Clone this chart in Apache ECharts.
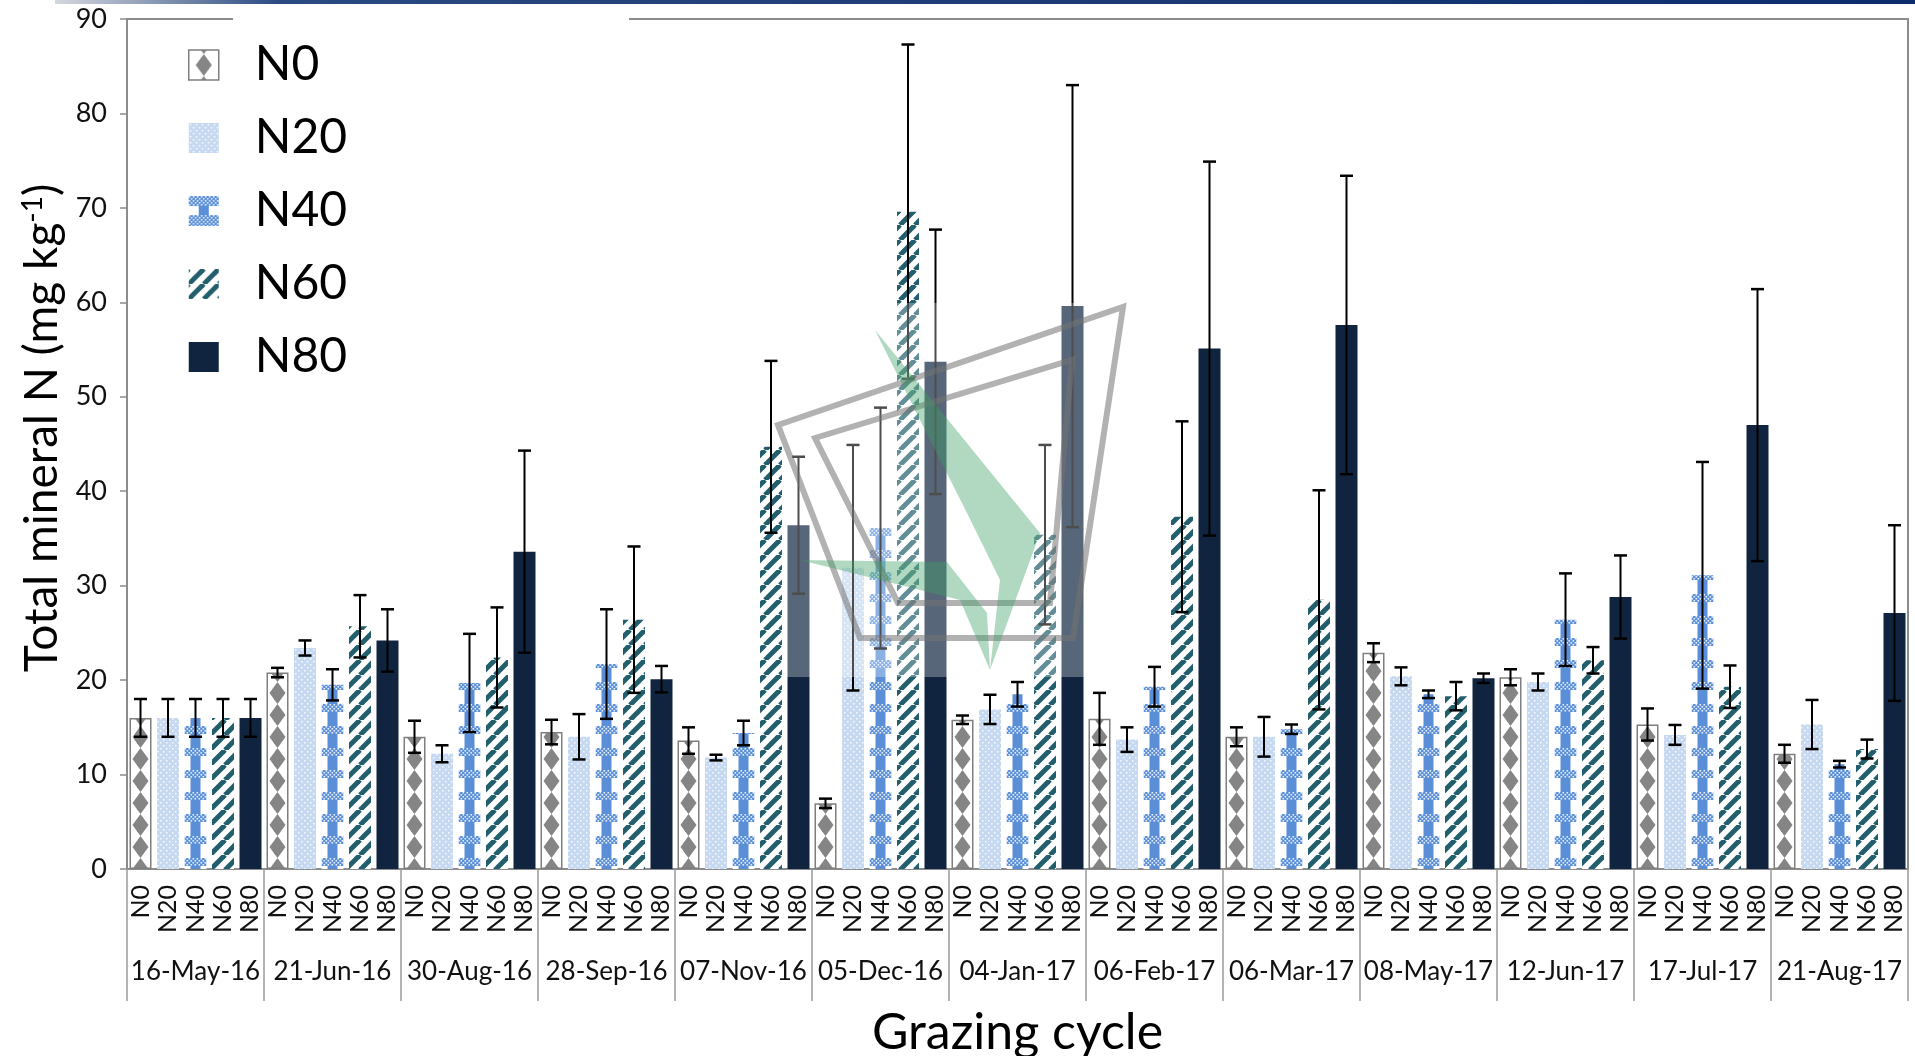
<!DOCTYPE html>
<html>
<head>
<meta charset="utf-8">
<title>Total mineral N by grazing cycle</title>
<script src="https://cdn.jsdelivr.net/npm/echarts@6/dist/echarts.min.js"></script>
<style>
  html, body { margin: 0; padding: 0; background: #fff; }
  #chart { width: 1915px; height: 1056px; }
</style>
</head>
<body>
<div id="chart"></div>
<script>
// grazing cycles (x categories)
const dates = ['16-May-16', '21-Jun-16', '30-Aug-16', '28-Sep-16', '07-Nov-16', '05-Dec-16', '04-Jan-17',
  '06-Feb-17', '06-Mar-17', '08-May-17', '12-Jun-17', '17-Jul-17', '21-Aug-17']
const treatments = ['N0', 'N20', 'N40', 'N60', 'N80']

// means and error (half-length) per treatment, mg kg-1
const n0Mean = [16, 20.8, 14.0, 14.5, 13.6, 6.95, 15.8, 15.9, 14.0, 22.9, 20.3, 15.3, 12.2]
const n0Err = [2, 0.5, 1.7, 1.3, 1.4, 0.5, 0.45, 2.75, 1.0, 1.0, 0.85, 1.7, 0.95]
const n20Mean = [16, 23.4, 12.2, 14.0, 11.8, 31.9, 16.9, 13.7, 14.0, 20.4, 19.8, 14.2, 15.3]
const n20Err = [2, 0.8, 0.9, 2.4, 0.3, 13.0, 1.55, 1.3, 2.1, 0.95, 0.9, 1.05, 2.6]
const n40Mean = [16, 19.5, 19.7, 21.7, 14.4, 36.1, 18.5, 19.3, 14.8, 18.5, 26.4, 31.1, 11.1]
const n40Err = [2, 1.65, 5.2, 5.8, 1.3, 12.75, 1.3, 2.1, 0.5, 0.4, 4.9, 12.0, 0.35]
const n60Mean = [16, 25.7, 22.4, 26.4, 44.7, 69.6, 35.4, 37.3, 28.5, 18.3, 22.1, 19.3, 12.7]
const n60Err = [2, 3.3, 5.3, 7.75, 9.1, 17.7, 9.5, 10.1, 11.6, 1.5, 1.4, 2.25, 1.0]
const n80Mean = [16, 24.2, 33.6, 20.1, 36.4, 53.7, 59.6, 55.1, 57.6, 20.2, 28.8, 47.0, 27.1]
const n80Err = [2, 3.3, 10.7, 1.4, 7.25, 14.0, 23.4, 19.8, 15.8, 0.5, 4.4, 14.4, 9.3]

const yMin = 0
const yMax = 90
const yStep = 10

// layout
const GRID_LEFT = 127
const BAND = 137            // px per grazing cycle
const BAR_W = 22
const BAR_STEP = BAR_W * 1.25
const FONT = 'Lato'

// second row of labels: treatment under each bar
const subLabels = []
dates.forEach(() => treatments.forEach(t => subLabels.push(t)))

// ---- fill patterns ----
const mkCanvas = (w, h) => {
  const c = document.createElement('canvas')
  c.width = w
  c.height = h
  return c
}

// bar centre (mod band) so the motif lines up with each bar
const barCenter = j => (GRID_LEFT + (BAND - (5 * BAR_W + 4 * 0.25 * BAR_W)) / 2 + BAR_W / 2 + j * BAR_STEP) % BAND

const drawDiamond = (g, cx, cy) => {
  g.beginPath()
  g.moveTo(cx, cy - 11)
  g.lineTo(cx + 8, cy)
  g.lineTo(cx, cy + 11)
  g.lineTo(cx - 8, cy)
  g.closePath()
  g.fill()
}

const n0Tile = (w, h, cx) => {
  const c = mkCanvas(w, h)
  const g = c.getContext('2d')
  g.fillStyle = '#fff'
  g.fillRect(0, 0, w, h)
  g.fillStyle = '#858585'
  const xs = w === BAND ? [cx - BAND, cx, cx + BAND] : [cx]
  xs.forEach(x => {
    for (let y = h / 2 - 22; y <= h + 11; y += 22) drawDiamond(g, x, y)
  })
  return c
}

const n20Tile = () => {
  const c = mkCanvas(6, 6)
  const g = c.getContext('2d')
  g.fillStyle = '#c6d9f1'
  g.fillRect(0, 0, 6, 6)
  g.fillStyle = 'rgba(255,255,255,0.85)'
  g.fillRect(1, 1, 1.5, 1.5)
  g.fillRect(4, 4, 1.5, 1.5)
  return c
}

const checkerBand = (g, x0, y0, w, h) => {
  g.fillStyle = '#5a8fd8'
  g.fillRect(x0, y0, w, h)
  g.fillStyle = 'rgba(255,255,255,0.85)'
  for (let x = 0; x < w; x += 2) {
    for (let y = 0; y < h; y += 2) {
      if (((x + y) / 2) % 2 === 0) g.fillRect(x0 + x, y0 + y, 1.6, 1.6)
    }
  }
}

const n40Tile = (w, h, cx, legend) => {
  const c = mkCanvas(w, h)
  const g = c.getContext('2d')
  g.fillStyle = '#fff'
  g.fillRect(0, 0, w, h)
  const xs = w === BAND ? [cx - BAND, cx, cx + BAND] : [cx]
  xs.forEach(x => {
    g.fillStyle = '#5a8fd8'
    g.fillRect(x - 5, 0, 10, h)
    if (legend) {
      checkerBand(g, x - 15, 0, 30, 10)
      checkerBand(g, x - 15, 19, 30, 11)
    } else {
      checkerBand(g, x - 11, 0, 22, 8)
    }
  })
  return c
}

const n60Tile = () => {
  const s = 15
  const c = mkCanvas(s, s)
  const g = c.getContext('2d')
  g.fillStyle = '#fff'
  g.fillRect(0, 0, s, s)
  g.strokeStyle = '#225e6b'
  g.lineWidth = 5
  for (let k = -1; k <= 1; k++) {
    g.beginPath()
    g.moveTo(k * s, s)
    g.lineTo(k * s + s, 0)
    g.stroke()
  }
  return c
}

const pat = img => ({ image: img, repeat: 'repeat' })

const barFills = [
  pat(n0Tile(BAND, 22, barCenter(0))),
  pat(n20Tile()),
  pat(n40Tile(BAND, 22, barCenter(2), false)),
  pat(n60Tile()),
  '#11243f'
]
const legendFills = [
  pat(n0Tile(30, 30, 15)),
  pat(n20Tile()),
  pat(n40Tile(30, 30, 15, true)),
  pat(n60Tile()),
  '#11243f'
]

const means = [n0Mean, n20Mean, n40Mean, n60Mean, n80Mean]
const errs = [n0Err, n20Err, n40Err, n60Err, n80Err]

// ---- series ----
const barSeries = treatments.map((name, j) => ({
  name,
  type: 'bar',
  xAxisIndex: 0,
  yAxisIndex: 0,
  barWidth: BAR_W,
  barGap: '25%',
  silent: true,
  itemStyle: j === 0
    ? { color: barFills[j], borderColor: '#7f7f7f', borderWidth: 1.5 }
    : { color: barFills[j] },
  data: means[j]
}))

const errorSeries = treatments.map((name, j) => ({
  name: name + ' se',
  type: 'custom',
  xAxisIndex: 0,
  yAxisIndex: 0,
  z: 5,
  silent: true,
  data: means[j].map((m, i) => [i, m, errs[j][i]]),
  encode: { x: 0, y: 1 },
  renderItem: (params, api) => {
    const i = api.value(0)
    const m = api.value(1)
    const e = api.value(2)
    const top = api.coord([i, m + e])
    const bot = api.coord([i, m - e])
    const x = top[0] + (j - 2) * BAR_STEP
    const half = 6.5
    const capStyle = { stroke: '#000', lineWidth: 2.5 }
    return {
      type: 'group',
      children: [
        { type: 'line', shape: { x1: x, y1: top[1], x2: x, y2: bot[1] }, style: { stroke: '#000', lineWidth: 2 } },
        { type: 'line', shape: { x1: x - half, y1: top[1], x2: x + half, y2: top[1] }, style: capStyle },
        { type: 'line', shape: { x1: x - half, y1: bot[1], x2: x + half, y2: bot[1] }, style: capStyle }
      ]
    }
  }
}))

const chart = echarts.init(document.getElementById('chart'))

chart.setOption({
  animation: false,
  backgroundColor: '#fff',
  textStyle: { fontFamily: FONT },
  grid: {
    left: GRID_LEFT,
    top: 19,
    width: BAND * dates.length,
    height: 850,
    show: true,
    borderColor: '#8c8c8c',
    borderWidth: 2,
    containLabel: false,
    outerBoundsMode: 'none'
  },
  legend: {
    orient: 'vertical',
    left: 188,
    top: 41,
    padding: 0,
    itemWidth: 30,
    itemHeight: 30,
    itemGap: 25,
    icon: 'rect',
    selectedMode: false,
    textStyle: { fontSize: 48, lineHeight: 48, color: '#000', fontFamily: FONT, padding: [0, 0, 0, 31] },
    data: treatments.map((name, j) => ({
      name,
      itemStyle: j === 0
        ? { color: legendFills[j], borderColor: '#7f7f7f', borderWidth: 1.5 }
        : { color: legendFills[j], borderWidth: 0 }
    }))
  },
  xAxis: [
    {
      type: 'category',
      data: dates,
      position: 'bottom',
      axisLine: { show: true, lineStyle: { color: '#8c8c8c', width: 2 } },
      axisTick: { show: true, alignWithLabel: false, interval: 0, length: 132, lineStyle: { color: '#9a9a9a', width: 1.5 } },
      axisLabel: { interval: 0, margin: 90, fontSize: 26, color: '#111', fontFamily: FONT },
      splitLine: { show: false },
      name: 'Grazing cycle',
      nameLocation: 'middle',
      nameGap: 139,
      nameTextStyle: { fontSize: 50, color: '#000', fontFamily: FONT }
    },
    {
      type: 'category',
      data: subLabels,
      position: 'bottom',
      axisLine: { show: false },
      axisTick: { show: false },
      axisLabel: { interval: 0, rotate: 90, margin: 16, fontSize: 25, color: '#111', fontFamily: FONT },
      splitLine: { show: false }
    }
  ],
  yAxis: {
    type: 'value',
    min: yMin,
    max: yMax,
    interval: yStep,
    axisLine: { show: true, lineStyle: { color: '#8c8c8c', width: 2 } },
    axisTick: { show: true, length: 7, lineStyle: { color: '#8c8c8c', width: 1.5 } },
    axisLabel: { margin: 20, fontSize: 27, color: '#111', fontFamily: FONT },
    splitLine: { show: false },
    name: '{a|Total mineral N (mg kg}{s|-1}{a|)}',
    nameLocation: 'middle',
    nameGap: 60,
    nameTextStyle: {
      padding: [0, 0, 0, 32],
      rich: {
        a: { fontSize: 46, color: '#000', fontFamily: FONT },
        s: { fontSize: 28, color: '#000', fontFamily: FONT, verticalAlign: 'top' }
      }
    }
  },
  graphic: [
    {
      type: 'rect', z: 50, silent: true,
      shape: { x: 55, y: 0, width: 1860, height: 4 },
      style: {
        fill: new echarts.graphic.LinearGradient(0, 0, 1, 0, [
          { offset: 0, color: '#d5d8de' },
          { offset: 0.12, color: '#2a4a82' },
          { offset: 1, color: '#0c2b6c' }
        ])
      }
    },
    { type: 'rect', z: 50, silent: true, shape: { x: 233, y: 14, width: 396, height: 10 }, style: { fill: '#fff' } },
    // faded logo watermark
    { type: 'rect', z: 60, silent: true, shape: { x: 785, y: 303, width: 305, height: 374 }, style: { fill: 'rgba(255,255,255,0.3)' } },
    {
      type: 'polygon', z: 61, silent: true,
      shape: { points: [[778, 425], [1123, 307], [1073, 638], [860, 638]] },
      style: { fill: 'none', stroke: 'rgba(115,115,115,0.55)', lineWidth: 6 }
    },
    {
      type: 'polygon', z: 61, silent: true,
      shape: { points: [[815, 438], [1072, 360], [1050, 603], [898, 603]] },
      style: { fill: 'none', stroke: 'rgba(115,115,115,0.55)', lineWidth: 6 }
    },
    {
      type: 'polygon', z: 62, silent: true,
      shape: { points: [[875, 330], [1040, 533], [990, 670], [1000, 580], [967, 513], [920, 420]] },
      style: { fill: 'rgba(60,160,100,0.4)' }
    },
    {
      type: 'polygon', z: 62, silent: true,
      shape: { points: [[800, 560], [947, 562], [987, 613], [990, 670], [960, 600]] },
      style: { fill: 'rgba(60,160,100,0.4)' }
    }
  ],
  series: [...barSeries, ...errorSeries]
})

window.addEventListener('resize', () => chart.resize())
</script>
</body>
</html>
